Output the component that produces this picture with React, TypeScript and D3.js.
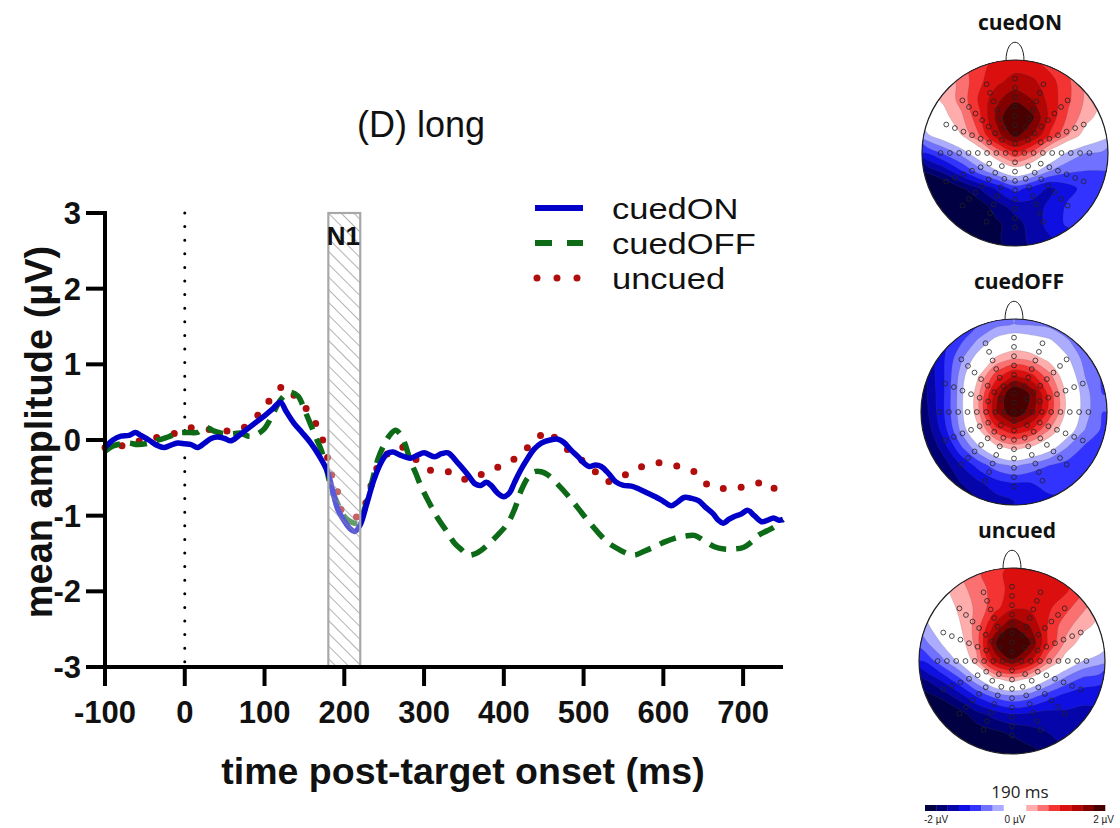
import React from 'react';
import * as d3 from 'd3';

// ERP time axis (ms) and amplitude axis (µV)
const xTicks = [-100, 0, 100, 200, 300, 400, 500, 600, 700];
const yTicks = [-3, -2, -1, 0, 1, 2, 3];
const n1Window = [180, 220];

// [time ms, amplitude µV]
const cuedON: [number, number][] = [
  [-100, -0.1], [-90, 0.0], [-80, 0.05], [-70, 0.06], [-62, 0.1], [-55, 0.06], [-45, 0.0], [-35, -0.07],
  [-26, -0.1], [-18, -0.07], [-9, -0.04], [0, -0.05], [8, -0.06], [16, -0.1], [25, -0.04], [33, 0.02],
  [41, 0.04], [50, 0.02], [58, -0.01], [68, 0.06], [79, 0.15], [90, 0.24], [100, 0.32], [110, 0.41],
  [120, 0.5], [127, 0.38], [137, 0.22], [147, 0.1], [158, -0.04], [168, -0.2], [179, -0.42], [186, -0.7],
  [192, -0.92], [200, -1.07], [207, -1.17], [213, -1.21], [220, -1.12], [228, -0.85], [237, -0.53],
  [246, -0.3], [254, -0.18], [261, -0.16], [270, -0.2], [283, -0.24], [292, -0.2], [300, -0.17],
  [313, -0.22], [322, -0.18], [330, -0.17], [342, -0.3], [355, -0.46], [364, -0.58], [371, -0.6],
  [378, -0.56], [384, -0.6], [392, -0.7], [400, -0.75], [407, -0.7], [413, -0.57], [421, -0.4],
  [430, -0.24], [438, -0.12], [447, -0.04], [458, 0.0], [468, 0.01], [475, -0.03], [484, -0.13],
  [493, -0.22], [500, -0.3], [507, -0.35], [515, -0.33], [522, -0.35], [532, -0.45], [540, -0.55],
  [550, -0.6], [560, -0.61], [570, -0.65], [580, -0.7], [590, -0.75], [600, -0.81], [610, -0.87],
  [618, -0.82], [626, -0.76], [635, -0.77], [644, -0.8], [652, -0.88], [662, -0.97], [669, -1.06],
  [675, -1.1], [682, -1.05], [689, -1.01], [697, -0.98], [706, -0.93], [714, -1.0], [723, -1.08],
  [731, -1.06], [738, -1.03], [745, -1.06], [750, -1.05],
];

const cuedOFF: [number, number][] = [
  [-100, -0.15], [-90, -0.08], [-80, -0.05], [-70, -0.04], [-59, -0.06], [-45, -0.04], [-33, 0.0],
  [-21, 0.04], [-9, 0.09], [3, 0.1], [16, 0.1], [26, 0.17], [36, 0.12], [46, 0.09], [58, 0.08],
  [70, 0.09], [80, 0.05], [87, 0.06], [99, 0.14], [110, 0.33], [120, 0.53], [132, 0.63], [142, 0.58],
  [150, 0.4], [158, 0.2], [165, 0.02], [171, -0.13], [177, -0.35], [183, -0.61], [192, -0.85],
  [200, -1.01], [208, -1.08], [217, -1.1], [223, -0.98], [230, -0.75], [236, -0.5], [242, -0.26],
  [249, -0.08], [256, 0.05], [264, 0.13], [270, 0.08], [276, -0.05], [283, -0.28], [290, -0.45],
  [296, -0.61], [306, -0.82], [317, -1.03], [328, -1.2], [338, -1.36], [347, -1.45], [355, -1.52],
  [365, -1.5], [375, -1.43], [390, -1.28], [405, -1.1], [414, -0.9], [422, -0.66], [430, -0.5],
  [438, -0.42], [447, -0.42], [455, -0.46], [467, -0.58], [480, -0.73], [493, -0.9], [505, -1.06],
  [518, -1.22], [531, -1.36], [545, -1.45], [555, -1.5], [564, -1.52], [576, -1.47], [589, -1.41],
  [601, -1.35], [614, -1.3], [627, -1.27], [639, -1.26], [651, -1.33], [664, -1.41], [676, -1.44],
  [689, -1.44], [700, -1.42], [710, -1.35], [719, -1.26], [730, -1.2], [739, -1.15], [750, -1.05],
];

const uncued: [number, number][] = [
  [-100, -0.1], [-88, -0.05], [-76, -0.08], [-60, -0.02], [-45, 0.0], [-30, 0.05], [-15, 0.08],
  [-5, 0.12], [7, 0.16], [19, 0.15], [31, 0.14], [40, 0.13], [49, 0.12], [61, 0.12], [73, 0.16],
  [82, 0.22], [91, 0.32], [98, 0.42], [106, 0.52], [115, 0.62], [124, 0.72], [133, 0.64], [141, 0.54],
  [149, 0.45], [157, 0.36], [163, 0.24], [169, 0.11], [177, -0.14], [183, -0.42], [191, -0.66],
  [196, -0.92], [205, -1.0], [213, -1.02], [221, -0.99], [228, -0.8], [235, -0.55], [242, -0.35],
  [250, -0.23], [260, -0.13], [271, -0.09], [280, -0.15], [290, -0.26], [299, -0.33], [308, -0.4],
  [320, -0.42], [331, -0.42], [343, -0.47], [355, -0.53], [366, -0.49], [376, -0.43], [388, -0.38],
  [399, -0.33], [410, -0.27], [420, -0.21], [428, -0.12], [437, -0.02], [446, 0.06], [454, 0.12],
  [462, 0.05], [470, -0.05], [479, -0.12], [488, -0.2], [498, -0.27], [508, -0.33], [517, -0.45],
  [526, -0.55], [537, -0.53], [547, -0.49], [557, -0.43], [568, -0.37], [580, -0.33], [592, -0.3],
  [604, -0.32], [616, -0.34], [628, -0.38], [639, -0.42], [648, -0.5], [658, -0.62], [670, -0.64],
  [682, -0.64], [693, -0.63], [704, -0.61], [716, -0.58], [728, -0.55], [738, -0.63], [747, -0.72],
  [750, -0.73],
];

const seriesNames = ['cuedON', 'cuedOFF', 'uncued'];

// scalp maps at 190 ms, 11x11 grid (rows front -> back, cols left -> right), µV
const topoN = 11;
const topoCuedON = [
  [0.3, 0.45, 0.65, 0.9, 1.1, 1.15, 1.1, 0.9, 0.7, 0.5, 0.3],
  [0.1, 0.3, 0.6, 0.95, 1.2, 1.35, 1.3, 1.1, 0.8, 0.45, 0.2],
  [0.1, 0.3, 0.6, 1.05, 1.45, 1.7, 1.5, 1.15, 0.8, 0.45, 0.25],
  [-0.05, 0.15, 0.45, 0.95, 1.6, 2.1, 1.8, 1.15, 0.7, 0.35, 0.1],
  [-0.3, -0.05, 0.25, 0.75, 1.4, 1.85, 1.5, 0.95, 0.5, 0.1, -0.15],
  [-1.0, -0.7, -0.4, 0.0, 0.55, 0.95, 0.65, 0.1, -0.3, -0.5, -0.55],
  [-1.7, -1.4, -1.0, -0.6, -0.25, 0.05, -0.15, -0.5, -0.7, -0.75, -0.75],
  [-2.2, -2.1, -1.8, -1.5, -1.2, -0.9, -1.1, -1.3, -1.1, -0.9, -0.85],
  [-2.3, -2.3, -2.1, -1.9, -1.6, -1.4, -1.35, -1.2, -0.95, -0.85, -0.85],
  [-2.3, -2.3, -2.2, -2.0, -1.8, -1.6, -1.4, -1.15, -0.95, -0.9, -0.9],
  [-2.3, -2.3, -2.2, -2.0, -1.8, -1.6, -1.45, -1.3, -1.2, -1.1, -1.0],
];
const topoCuedOFF = [
  [-1.2, -1.1, -1.0, -0.8, -0.6, -0.5, -0.55, -0.6, -0.8, -0.9, -1.0],
  [-1.3, -1.1, -0.8, -0.45, -0.15, -0.05, -0.1, -0.2, -0.45, -0.8, -0.95],
  [-1.45, -1.05, -0.55, -0.1, 0.3, 0.5, 0.4, 0.15, -0.2, -0.6, -0.9],
  [-1.5, -1.05, -0.4, 0.25, 0.9, 1.3, 1.1, 0.6, 0.0, -0.5, -0.8],
  [-1.55, -1.05, -0.35, 0.45, 1.4, 2.1, 1.7, 0.9, 0.15, -0.4, -0.75],
  [-1.6, -1.05, -0.35, 0.45, 1.5, 2.0, 1.6, 0.9, 0.15, -0.4, -0.75],
  [-1.7, -1.15, -0.45, 0.2, 0.9, 1.2, 1.0, 0.5, -0.05, -0.5, -0.8],
  [-1.8, -1.4, -0.8, -0.3, 0.15, 0.35, 0.2, -0.1, -0.5, -0.8, -0.95],
  [-1.95, -1.65, -1.25, -0.9, -0.6, -0.45, -0.6, -0.75, -0.85, -0.9, -1.0],
  [-2.0, -1.85, -1.5, -1.3, -1.1, -1.0, -1.0, -0.85, -0.85, -0.95, -1.05],
  [-2.0, -1.9, -1.7, -1.5, -1.35, -1.25, -1.2, -1.1, -1.1, -1.1, -1.1],
];
const topoUncued = [
  [0.1, 0.3, 0.5, 0.7, 0.9, 1.1, 1.2, 1.2, 1.1, 0.9, 0.6],
  [-0.1, 0.15, 0.4, 0.6, 0.85, 1.1, 1.2, 1.2, 1.05, 0.8, 0.5],
  [-0.2, 0.0, 0.3, 0.55, 0.9, 1.2, 1.2, 1.05, 0.85, 0.55, 0.3],
  [-0.35, -0.05, 0.2, 0.6, 1.3, 1.7, 1.5, 1.0, 0.6, 0.35, 0.15],
  [-0.6, -0.25, 0.05, 0.6, 1.7, 2.3, 1.8, 1.0, 0.45, 0.1, -0.05],
  [-1.0, -0.6, -0.2, 0.4, 1.3, 1.7, 1.3, 0.6, 0.1, -0.25, -0.4],
  [-1.5, -1.2, -0.8, -0.3, 0.2, 0.4, 0.2, -0.2, -0.55, -0.8, -0.9],
  [-1.9, -1.7, -1.4, -1.0, -0.7, -0.55, -0.65, -0.9, -1.1, -1.2, -1.2],
  [-2.2, -2.1, -1.9, -1.6, -1.4, -1.25, -1.3, -1.35, -1.3, -1.3, -1.3],
  [-2.3, -2.3, -2.1, -1.9, -1.8, -1.7, -1.6, -1.5, -1.4, -1.35, -1.35],
  [-2.3, -2.3, -2.2, -2.1, -2.0, -1.9, -1.8, -1.7, -1.5, -1.4, -1.4],
];

const bandEdges = [-1.75, -1.5, -1.25, -1, -0.75, -0.5, -0.25, 0.25, 0.5, 0.75, 1, 1.25, 1.5, 1.75];
const colorStops = [-2, -1.5, -1, -0.5, 0, 0.5, 1, 1.5, 2];
const colorValues = ['#00002a', '#00008c', '#1414ff', '#9090ff', '#ffffff', '#ff9090', '#f01414', '#a00000', '#2a0000'];
const colorbarLabels = ['-2 µV', '0 µV', '2 µV'];
const topoTime = '190 ms';

// electrode layout: 16 spokes x 8 rings around Cz, thinned near the centre
const spokeAngles = [0, 22.5, 45, 67.5, 90, 112.5, 135, 157.5, 180, 202.5, 225, 247.5, 270, 292.5, 315, 337.5];
const ringRadii = [0.1, 0.2, 0.3, 0.4, 0.5, 0.6, 0.7, 0.8];
const ringSpokeStep = [4, 2, 1, 1, 1, 1, 1, 1];

const FONT = "'Liberation Sans', Arial, sans-serif";
const TOPO_FONT = "'Open Sans', 'DejaVu Sans', sans-serif";

const colorScale = d3.scaleLinear<string>().domain(colorStops).range(colorValues).interpolate(d3.interpolateRgb);
const bandColor = (i: number) => {
  const lo = i === 0 ? -2 : bandEdges[i - 1];
  const hi = i === bandEdges.length ? 2 : bandEdges[i];
  return colorScale((lo + hi) / 2);
};

function Topomap({ grid, label, cx, cy, r, id }: { grid: number[][]; label: string; cx: number; cy: number; r: number; id: string }) {
  const values = grid.flat();
  const thresholds = [-10, ...bandEdges];
  const contours = d3.contours().size([topoN, topoN]).thresholds(thresholds)(values);
  const span = 2.1 * r;
  const k = span / topoN;
  const ringLine = d3
    .line<number[]>()
    .x(p => cx - span / 2 + p[0] * k)
    .y(p => cy - span / 2 + p[1] * k)
    .curve(d3.curveCatmullRomClosed.alpha(0.5));
  const toPath = (c: any) =>
    c.coordinates.map((poly: number[][][]) => poly.map(ring => ringLine(ring.slice(0, -1))).join('')).join('');

  const electrodes: [number, number][] = [[cx, cy]];
  ringRadii.forEach((rr, ri) => {
    spokeAngles.forEach((a, ai) => {
      if (ai % ringSpokeStep[ri] !== 0) return;
      const rad = (a * Math.PI) / 180;
      electrodes.push([cx + rr * r * Math.sin(rad), cy - rr * r * Math.cos(rad)]);
    });
  });

  return (
    <g>
      <text x={cx + 5} y={cy - r - 30} textAnchor="middle" fontFamily={TOPO_FONT} fontWeight="bold" fontSize={21} fill="#111">
        {label}
      </text>
      <path
        d={`M${cx - 9},${cy - r + 1} C${cx - 9},${cy - r - 24} ${cx + 9},${cy - r - 24} ${cx + 9},${cy - r + 1}`}
        fill="none"
        stroke="#222"
        strokeWidth={1}
      />
      <clipPath id={id}>
        <circle cx={cx} cy={cy} r={r} />
      </clipPath>
      <g clipPath={`url(#${id})`}>
        {contours.map((c, i) => (
          <path
            key={i}
            d={toPath(c)}
            fill={bandColor(i)}
            stroke={i === 0 ? 'none' : 'rgba(90,90,90,0.3)'}
            strokeWidth={0.6}
          />
        ))}
      </g>
      <circle cx={cx} cy={cy} r={r} fill="none" stroke="#222" strokeWidth={1.2} />
      {electrodes.map((e, i) => (
        <circle key={i} cx={e[0]} cy={e[1]} r={2.4} fill="none" stroke="#222" strokeWidth={0.8} />
      ))}
    </g>
  );
}

export default function App() {
  const x = d3.scaleLinear().domain([-100, 750]).range([105, 783]);
  const y = d3.scaleLinear().domain([-3, 3]).range([667, 213]);
  const line = d3
    .line<[number, number]>()
    .x(d => x(d[0]))
    .y(d => y(d[1]))
    .curve(d3.curveCatmullRom.alpha(0.5));

  const blue = '#0000c8';
  const green = '#0d6a17';
  const red = '#b00d0d';
  const styles = [
    { color: blue, dash: undefined as string | undefined, cap: 'butt', width: 5.5 },
    { color: green, dash: '17 10', cap: 'butt', width: 5.5 },
    { color: red, dash: '0 18', cap: 'round', width: 7 },
  ];
  const seriesData = [cuedON, cuedOFF, uncued];

  const cb = d3.scaleLinear().domain([-2, 2]).range([925, 1105]);
  const cbEdges = [-2, ...bandEdges, 2];

  const topos = [
    { grid: topoCuedON, label: seriesNames[0], cx: 1015, cy: 153 },
    { grid: topoCuedOFF, label: seriesNames[1], cx: 1014, cy: 412 },
    { grid: topoUncued, label: seriesNames[2], cx: 1012, cy: 661 },
  ];

  return (
    <div>
      <style>{'body{margin:0}'}</style>
      <svg width={1120} height={828} style={{ display: 'block' }}>
        <defs>
          <pattern id="hatch" width={9} height={9} patternUnits="userSpaceOnUse" patternTransform="rotate(-45)">
            <line x1={0} y1={0} x2={0} y2={9} stroke="#8a8a8a" strokeWidth={1.3} />
          </pattern>
        </defs>
        <rect width={1120} height={828} fill="#fff" />

        <text x={421} y={137} textAnchor="middle" fontFamily={FONT} fontSize={36} fill="#111">
          (D) long
        </text>

        {/* zero line */}
        <line x1={x(0)} x2={x(0)} y1={y(3)} y2={y(-3)} stroke="#000" strokeWidth={3} strokeDasharray="0 13.6" strokeLinecap="round" />

        {/* series: uncued below, cuedON on top */}
        {[2, 1, 0].map(i => (
          <path
            key={i}
            d={line(seriesData[i]) || ''}
            fill="none"
            stroke={styles[i].color}
            strokeWidth={styles[i].width}
            strokeDasharray={styles[i].dash}
            strokeLinecap={styles[i].cap as any}
            strokeLinejoin="round"
          />
        ))}

        {/* N1 window */}
        <rect
          x={x(n1Window[0])}
          y={y(3)}
          width={x(n1Window[1]) - x(n1Window[0])}
          height={y(-3) - y(3)}
          fill="rgba(255,255,255,0.35)"
        />
        <rect
          x={x(n1Window[0])}
          y={y(3)}
          width={x(n1Window[1]) - x(n1Window[0])}
          height={y(-3) - y(3)}
          fill="url(#hatch)"
          stroke="#a8a8a8"
          strokeWidth={2.2}
        />
        <text x={x((n1Window[0] + n1Window[1]) / 2) - 1} y={245} textAnchor="middle" fontFamily={FONT} fontWeight="bold" fontSize={26} fill="#111">
          N1
        </text>

        {/* axes */}
        <line x1={105} x2={783} y1={667} y2={667} stroke="#000" strokeWidth={4} />
        <line x1={105} x2={105} y1={211} y2={669} stroke="#000" strokeWidth={4} />
        {xTicks.map(t => (
          <g key={t}>
            <line x1={x(t)} x2={x(t)} y1={667} y2={686} stroke="#000" strokeWidth={4} />
            <text x={x(t)} y={723} textAnchor="middle" fontFamily={FONT} fontWeight="bold" fontSize={31} fill="#111">
              {t}
            </text>
          </g>
        ))}
        {yTicks.map(t => (
          <g key={t}>
            <line x1={86} x2={105} y1={y(t)} y2={y(t)} stroke="#000" strokeWidth={4} />
            <text x={81} y={y(t) + 11} textAnchor="end" fontFamily={FONT} fontWeight="bold" fontSize={31} fill="#111">
              {t}
            </text>
          </g>
        ))}
        <text x={463} y={784} textAnchor="middle" fontFamily={FONT} fontWeight="bold" fontSize={37.5} fill="#111">
          time post-target onset (ms)
        </text>
        <text transform="translate(52,432) rotate(-90)" textAnchor="middle" fontFamily={FONT} fontWeight="bold" fontSize={38} fill="#111">
          mean amplitude (µV)
        </text>

        {/* legend */}
        {seriesNames.map((name, i) => {
          const ly = 208 + i * 35;
          return (
            <g key={name}>
              <line
                x1={i === 2 ? 537 : 535}
                x2={i === 2 ? 578 : 583}
                y1={ly}
                y2={ly}
                stroke={styles[i].color}
                strokeWidth={i === 2 ? 7 : 6}
                strokeDasharray={i === 1 ? '17 15' : i === 2 ? '0 20' : undefined}
                strokeLinecap={styles[i].cap as any}
              />
              <text transform={`translate(612,${ly + 11}) scale(1.15,1)`} fontFamily={FONT} fontSize={30} fill="#111">
                {name}
              </text>
            </g>
          );
        })}

        {/* scalp maps */}
        {topos.map((t, i) => (
          <Topomap key={t.label} id={`clip${i}`} grid={t.grid} label={t.label} cx={t.cx} cy={t.cy} r={93} />
        ))}

        {/* colour bar */}
        <text x={1020} y={798} textAnchor="middle" fontFamily={TOPO_FONT} fontSize={17} fill="#222">
          {topoTime}
        </text>
        {cbEdges.slice(0, -1).map((lo, i) => (
          <rect key={i} x={cb(lo)} y={805} width={cb(cbEdges[i + 1]) - cb(lo) + 0.3} height={6} fill={bandColor(i)} />
        ))}
        {colorbarLabels.map((l, i) => (
          <text
            key={l}
            x={i === 0 ? 924 : i === 1 ? 1015 : 1114}
            y={823}
            textAnchor={i === 0 ? 'start' : i === 1 ? 'middle' : 'end'}
            fontFamily={FONT}
            fontSize={10}
            fill="#222"
          >
            {l}
          </text>
        ))}
      </svg>
    </div>
  );
}
